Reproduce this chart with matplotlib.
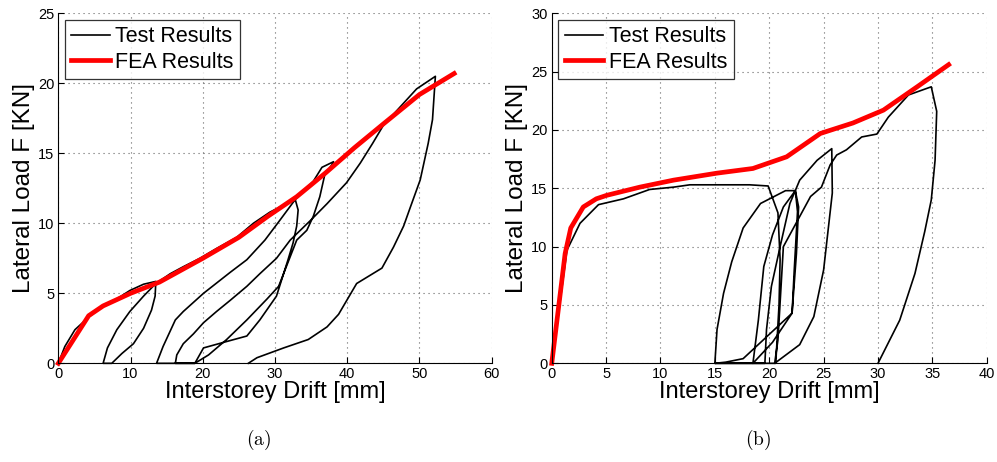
import matplotlib
matplotlib.use("Agg")
import matplotlib.pyplot as plt

plt.rcParams['font.family'] = ['Liberation Sans', 'DejaVu Sans']
plt.rcParams['mathtext.fontset'] = 'cm'

# (a) test results, hysteresis path (drift mm, load kN)
test_drift_a = [0, 0.9, 2.3, 4.2, 6.2, 8.1, 9.9, 11.8, 13.5,
                13.4, 12.9, 11.8, 10.4, 8.8, 7.4,
                6.2, 6.8, 8.1, 9.9, 11.8, 13.5,
                15.5, 17.3, 19.6, 21.9, 24.7, 27.0, 29.3, 31.2, 32.8,
                33.2, 33.0, 32.5, 31.8, 30.2, 27.9, 26.1, 22.9, 20.1, 18.9,
                13.6, 14.5, 16.2, 17.3, 20.1, 23.8, 26.1, 28.6, 30.5, 32.8,
                35.3, 36.5, 38.1,
                37.9, 36.9, 36.2, 35.3, 34.4, 33.0, 30.5, 28.9, 26.1, 23.3, 20.8, 18.9,
                16.2, 16.4, 17.3, 18.7, 20.1, 21.9, 23.8, 26.1, 27.9, 30.2, 32.1,
                34.9, 37.2, 39.9, 41.8, 43.5, 45.0, 47.3, 49.6, 52.2,
                51.8, 51.2, 50.1, 48.7, 47.8, 46.4, 44.8, 41.3, 38.8, 37.2, 34.6, 31.2, 27.5, 26.3]
test_load_a = [0, 1.2, 2.4, 3.3, 4.1, 4.6, 5.2, 5.65, 5.85,
               4.8, 3.8, 2.5, 1.4, 0.7, 0,
               0, 1.1, 2.4, 3.7, 4.8, 5.7,
               6.4, 6.9, 7.5, 8.2, 9.0, 10.0, 10.8, 11.3, 11.7,
               10.95, 9.8, 8.6, 7.4, 4.8, 3.1, 1.95, 1.5, 1.1, 0,
               0, 1.2, 3.1, 3.7, 5.0, 6.5, 7.4, 8.8, 10.1, 11.7,
               13.0, 14.0, 14.4,
               14.2, 13.5, 11.9, 10.5, 9.5, 8.8, 5.5, 4.6, 3.1, 1.7, 0.6, 0,
               0, 0.6, 1.4, 2.1, 2.9, 3.7, 4.5, 5.5, 6.4, 7.5, 8.8,
               10.2, 11.4, 12.9, 14.3, 15.7, 17.0, 18.3, 19.6, 20.5,
               17.4, 15.7, 13.1, 11.1, 9.8, 8.3, 6.8, 5.7, 3.5, 2.6, 1.7, 1.1, 0.4, 0]

# (a) FEA results
fea_drift_a = [0, 4.2, 6.2, 10.0, 14.0, 20.0, 25.0, 29.0, 33.0, 37.0, 41.0, 45.0, 50.0, 54.8]
fea_load_a = [0, 3.4, 4.1, 5.0, 5.8, 7.5, 9.0, 10.5, 11.9, 13.6, 15.4, 17.1, 19.2, 20.7]

# (b) test results
test_drift_b = [0, 1.4, 2.6, 4.3, 6.6, 9.0, 11.2, 12.7, 15.2, 18.2, 19.9,
                20.8, 21.0, 20.9, 20.6,
                15.0, 15.2, 15.8, 16.55, 17.6, 19.2, 21.5, 22.4,
                22.7, 22.5, 22.1, 17.6, 16.0, 15.0,
                18.5, 19.0, 19.5, 20.3, 21.3, 22.4,
                22.6, 22.3, 22.1, 20.3, 18.5,
                19.6, 19.75, 20.2, 21.0, 21.9, 22.8, 24.4, 25.75,
                25.8, 25.0, 24.1, 22.8, 20.5,
                20.8, 21.3, 23.8, 24.8, 25.6, 26.2, 27.1, 28.5, 29.9, 30.95, 32.8, 34.9,
                35.4, 35.25, 34.9, 34.3, 33.4, 32.0, 30.0]
test_load_b = [0, 9.7, 12.0, 13.6, 14.1, 14.9, 15.1, 15.3, 15.3, 15.3, 15.2,
               12.9, 8.9, 5.0, 0,
               0, 2.9, 6.0, 8.7, 11.6, 13.7, 14.8, 14.8,
               13.4, 9.4, 4.3, 0.4, 0.1, 0,
               0, 3.7, 8.3, 11.0, 13.4, 14.8,
               13.0, 8.0, 4.3, 1.8, 0,
               0, 2.9, 6.6, 10.0, 13.7, 15.7, 17.4, 18.4,
               14.6, 8.0, 4.0, 1.6, 0,
               2.0, 10.0, 14.3, 15.1, 17.0, 17.85, 18.3, 19.4, 19.65, 21.1, 23.0, 23.7,
               21.6, 17.4, 14.0, 11.3, 7.7, 3.7, 0]

# (b) FEA results
fea_drift_b = [0, 1.23, 1.75, 2.9, 4.1, 5.06, 8.1, 11.2, 15.2, 18.5, 21.6, 24.7, 27.7, 30.5, 33.6, 36.5]
fea_load_b = [0, 9.4, 11.6, 13.4, 14.1, 14.4, 15.1, 15.7, 16.3, 16.7, 17.7, 19.7, 20.6, 21.7, 23.7, 25.6]

fig = plt.figure(figsize=(9.97, 4.62), dpi=100)
ax1 = fig.add_axes([0.0585, 0.2136, 0.4347, 0.7576])
ax2 = fig.add_axes([0.5534, 0.2136, 0.4363, 0.7576])


def style_axes(ax, xmax, xstep, ymax, ystep):
   ax.set_xlim(0, xmax)
   ax.set_ylim(0, ymax)
   ax.set_xticks(range(0, xmax + 1, xstep))
   ax.set_yticks(range(0, ymax + 1, ystep))
   for side in ['top', 'right']:
      ax.spines[side].set_visible(False)
   for side in ['left', 'bottom']:
      ax.spines[side].set_linewidth(0.8)
   ax.tick_params(direction='in', length=4, width=0.8, labelsize=10.5, pad=3)
   ax.grid(True, color='#666666', linestyle=(0, (1, 3.5)), linewidth=0.8)
   ax.set_axisbelow(True)
   ax.set_xlabel('Interstorey Drift [mm]', fontsize=17, labelpad=0)
   ax.set_ylabel('Lateral Load F [KN]', fontsize=17.5, labelpad=2)


for ax, tx, ty, fx, fy, xmax, xstep, ymax in [
      (ax1, test_drift_a, test_load_a, fea_drift_a, fea_load_a, 60, 10, 25),
      (ax2, test_drift_b, test_load_b, fea_drift_b, fea_load_b, 40, 5, 30)]:
   ax.plot(tx, ty, color='black', linewidth=1.2, label='Test Results', clip_on=False)
   ax.plot(fx, fy, color='#ff0000', linewidth=3.4, label='FEA Results', clip_on=False)
   style_axes(ax, xmax, xstep, ymax, 5)
   leg = ax.legend(loc='upper left', fontsize=15.5, frameon=True, fancybox=False,
                   borderaxespad=0.3, handlelength=1.8, handletextpad=0.25,
                   borderpad=0.3, labelspacing=0.2)
   leg.get_frame().set_edgecolor('black')
   leg.get_frame().set_linewidth(0.9)

fig.text(0.2588, 0.047, r'$(\mathrm{a})$', ha='center', va='center', fontsize=14)
fig.text(0.7603, 0.047, r'$(\mathrm{b})$', ha='center', va='center', fontsize=14)

fig.savefig('out.png', dpi=100)
